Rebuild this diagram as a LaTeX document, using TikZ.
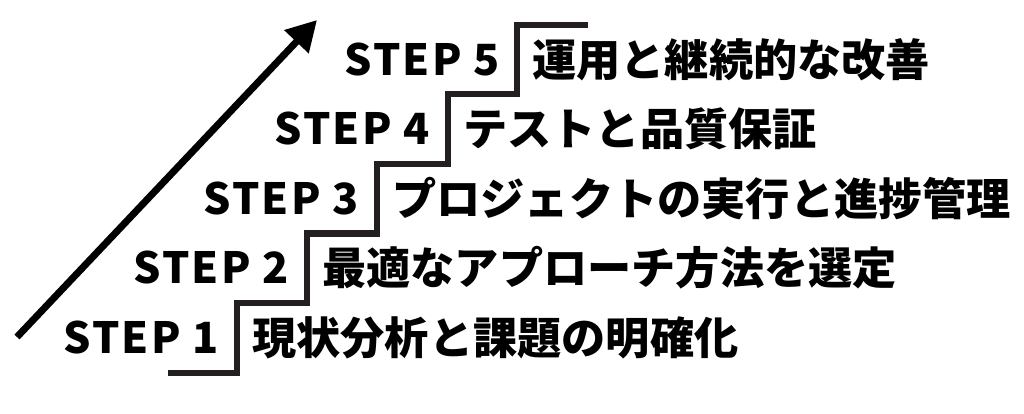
\documentclass[tikz,border=0pt]{standalone}
\usepackage{fontspec}
\setmainfont{Noto Sans CJK JP}
\newfontfamily\stepfont{Noto Sans CJK JP}[LetterSpace=5]
\usetikzlibrary{arrows.meta}
\definecolor{stair}{HTML}{231F20}
\tikzset{
  steplabel/.style={anchor=base east, inner sep=0pt, font=\stepfont\bfseries\fontsize{43}{43}\selectfont},
  steptext/.style={anchor=base west, inner sep=0pt, font=\bfseries\fontsize{44.2}{44.2}\selectfont},
  stairline/.style={draw=stair, line width=6.5pt, line join=miter},
  bigarrow/.style={draw=black, line width=7pt, -{Triangle[length=30pt,width=32pt]}}
}
\begin{document}
\begin{tikzpicture}[x=1pt,y=-1pt]
\useasboundingbox (0,0) rectangle (1024,413);
% staircase
\draw[stairline] (168,373) -- (237,373) -- (237,303) -- (307,303) -- (307,233.5) -- (377,233.5) -- (377,164) -- (448,164) -- (448,94) -- (517,94) -- (517,25) -- (588,25);
% arrow
\coordinate (atail) at (17,337);
\coordinate (ahead) at (317,20);
\draw[bigarrow] (atail) -- (ahead);
% labels
\node[steplabel] (s1) at (219,353) {STEP 1};
\node[steplabel] (s2) at (289,283.5) {STEP 2};
\node[steplabel] (s3) at (359,214) {STEP 3};
\node[steplabel] (s4) at (430,144) {STEP 4};
\node[steplabel] (s5) at (500,75) {STEP 5};
\node[steptext] (t1) at (252,354) {現状分析と課題の明確化};
\node[steptext] (t2) at (322,284.5) {最適なアプローチ方法を選定};
\node[steptext] (t3) at (392,215) {プロジェクトの実行と進捗管理};
\node[steptext] (t4) at (463,145) {テストと品質保証};
\node[steptext] (t5) at (532,76) {運用と継続的な改善};
\end{tikzpicture}
\end{document}
